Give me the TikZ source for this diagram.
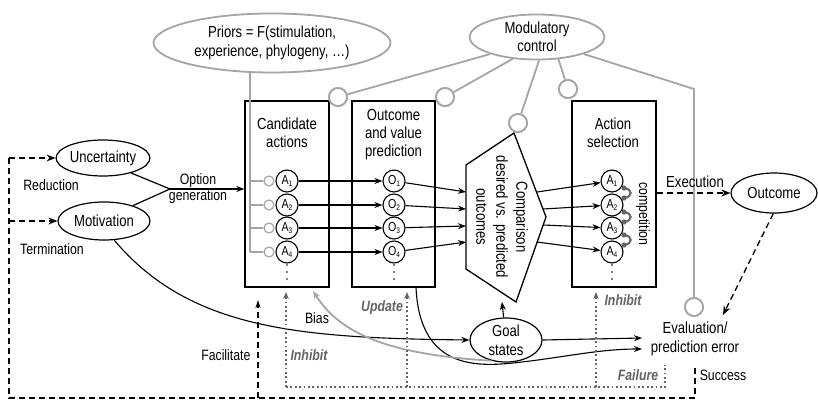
\documentclass[tikz,border=0pt]{standalone}
\usepackage{fontspec}
\setmainfont{Liberation Sans}[FakeStretch=0.82]
\usetikzlibrary{arrows.meta,shapes.geometric,calc}
\definecolor{lgray}{RGB}{165,165,165}
\definecolor{dgray}{RGB}{100,100,100}
\newcommand{\Asub}[2]{#1\raisebox{-2.5pt}{\fontsize{8}{8}\selectfont #2}}
\begin{document}
\begin{tikzpicture}[x=1pt,y=-1pt,
  font=\fontsize{16}{19}\selectfont,
  box/.style={draw, line width=1.3pt, minimum width=84pt, minimum height=186pt, inner sep=0pt},
  ell/.style={draw, ellipse, line width=1.2pt, inner sep=0pt, align=center},
  gell/.style={draw=lgray, ellipse, line width=1.8pt, inner sep=0pt, align=center},
  acirc/.style={draw, circle, line width=1.1pt, minimum size=22pt, inner sep=0pt, font=\fontsize{13}{13}\selectfont},
  arr/.style={-{Stealth[length=8pt,width=6pt]}, line width=1.1pt},
  darr/.style={-{Stealth[length=9pt,width=7pt]}, line width=1.3pt, dash pattern=on 6pt off 4pt},
  gline/.style={draw=lgray, line width=1.8pt},
  mcirc/.style={draw=lgray, circle, line width=1.8pt, minimum size=18pt, inner sep=0pt, fill=white},
  scirc/.style={draw=lgray, circle, line width=1.2pt, minimum size=10pt, inner sep=0pt, fill=white},
  dotln/.style={draw=dgray, line width=1.8pt, dash pattern=on 1.8pt off 2.6pt},
  dotarr/.style={dotln, -{Stealth[length=7pt,width=5.5pt]}},
  lbl/.style={font=\fontsize{15}{17}\selectfont},
  glbl/.style={font=\fontsize{15}{17}\selectfont\bfseries\itshape, text=dgray},
  comp/.style={draw=dgray, line width=2pt},
  ttl/.style={align=center, font=\fontsize{16}{18}\selectfont}
]
\useasboundingbox (0,0) rectangle (818,401);

% ---------- ellipses top ----------
\node[gell, minimum width=237pt, minimum height=59pt] (pri) at (272,43)
  {Priors = F(stimulation,\\experience, phylogeny, …)};
\node[gell, minimum width=135pt, minimum height=45pt, font=\fontsize{16}{18}\selectfont] (mod) at (537,37)
  {Modulatory\\control};

% ---------- boxes ----------
\node[box] (cand) at (287,194) {};
\node[box, minimum width=83pt] (outb) at (393.5,194) {};
\node[box] (actb) at (614,194) {};
\node[ttl] (candt) at (287,133) {Candidate\\actions};
\node[ttl] (outt) at (393.5,135) {Outcome\\and value\\prediction};
\node[ttl] (actt) at (613,133) {Action\\selection};

% ---------- comparison polygon ----------
\coordinate (cT) at (514,133);
\coordinate (cR) at (546,217);
\coordinate (cB) at (516,302);
\coordinate (cBL) at (466,269);
\coordinate (cTL) at (466,165);
\draw[line width=1.3pt, line join=miter] (cT) -- (cR) -- (cB) -- (cBL) -- (cTL) -- cycle;
\node[rotate=-90, align=center, font=\fontsize{16}{20}\selectfont] (cmpt) at (502,217)
  {Comparison\\desired vs. predicted\\outcomes};

% ---------- circles ----------
\foreach \i/\y in {1/181,2/205,3/228,4/252}{
  \node[acirc] (a\i) at (287,\y) {\Asub{A}{\i}};
  \node[acirc] (o\i) at (394,\y) {\Asub{O}{\i}};
  \node[acirc] (s\i) at (612,\y) {\Asub{A}{\i}};
  \node[scirc] (g\i) at (269,\y) {};
  \draw[arr] (a\i) -- (o\i);
}
% vertical ellipses
\foreach \x in {287,394,612}{
  \foreach \yy in {265,272,279}{
    \fill (\x,\yy) circle (0.9pt);
  }
}

% priors bus
\coordinate (bus1) at (250,72);
\coordinate (bus2) at (250,252);
\draw[gline] (bus1) -- (bus2);
\foreach \i in {1,2,3,4}{
  \draw[gline, line width=1.4pt] (g\i.west -| bus1) -- (g\i.west);
}

% comparison inputs/outputs
\coordinate (ci1) at (466,192);
\coordinate (ci2) at (466,209);
\coordinate (ci3) at (466,226);
\coordinate (ci4) at (466,242);
\coordinate (co1) at (537,192);
\coordinate (co2) at (543,209);
\coordinate (co3) at (543,225);
\coordinate (co4) at (537,242);
\foreach \i in {1,2,3,4}{
  \draw[arr] (o\i) -- (ci\i);
  \draw[arr] (co\i) -- (s\i);
}

% competition
\foreach \y in {181,205,228}{
  \draw[comp] (624,\y+7) .. controls (633,\y+8) and (633,\y+16) .. (624,\y+17);
  \fill[dgray] (624,\y+7) circle (2.6pt);
  \fill[dgray] (624,\y+17) circle (2.6pt);
}
\node[rotate=-90, font=\fontsize{15}{17}\selectfont] (compt) at (643,214) {competition};

% ---------- modulatory connections ----------
\node[mcirc] (m1) at (338,97) {};
\node[mcirc] (m2) at (445,97) {};
\node[mcirc] (m3) at (518,123) {};
\node[mcirc] (m4) at (568,89) {};
\node[mcirc] (m5) at (694,307) {};
\coordinate (m5k) at (694,89);
\draw[gline] (mod.200) -- (m1);
\draw[gline] (mod.222) -- (m2);
\draw[gline] (mod.275) -- (m3);
\draw[gline] (mod.314) -- (m4);
\draw[gline] (mod.340) -- (m5k) -- (m5);
\node[mcirc] at (m1) {};
\node[mcirc] at (m2) {};
\node[mcirc] at (m3) {};
\node[mcirc] at (m4) {};
\node[mcirc] at (m5) {};

% ---------- left side ----------
\node[ell, minimum width=92pt, minimum height=36pt] (unc) at (103,158) {Uncertainty};
\node[ell, minimum width=92pt, minimum height=38pt] (mot) at (104,221) {Motivation};
\coordinate (join) at (170,189);
\draw[line width=1.2pt] (unc.-28) -- (join);
\draw[line width=1.2pt] (mot.28) -- (join);
\draw[arr, line width=1.3pt] (join) -- (join -| cand.west);
\node[lbl] (optl) at (198,181) {Option};
\node[lbl] (genl) at (198,197) {generation};

\coordinate (lt) at (9,158);
\coordinate (lb) at (9,398);
\coordinate (rb) at (695,398);
\coordinate (rs) at (695,365);
\draw[darr] (lt) -- (unc.west);
\draw[line width=1.3pt, dash pattern=on 6pt off 4pt] (lt) -- (lb) -- (rb) -- (rs);
\draw[darr] (lt |- mot.west) -- (mot.west);
\node[lbl] (redl) at (51,185) {Reduction};
\node[lbl] (terl) at (52,249) {Termination};

% facilitate
\coordinate (fb) at (258,398);
\coordinate (ft) at (258,300);
\draw[darr, -{Stealth[length=8pt,width=5pt]}] (fb) -- (ft);
\node[lbl, anchor=east] (facl) at (254,355) {Facilitate};

% ---------- goal states and evaluation ----------
\node[ell, minimum width=72pt, minimum height=44pt, font=\fontsize{16}{19}\selectfont] (goal) at (506,340) {Goal\\states};
\node[align=center, font=\fontsize{16}{19}\selectfont, inner sep=0pt] (eval) at (695,339) {Evaluation/\\prediction error};
\coordinate (e1) at (642,338);
\coordinate (e2) at (642,349);
\draw[arr] (goal) -- (cmpt.west |- cB);
\draw[arr] (goal.east) -- (e1);
\draw[arr] (mot.-62) .. controls (190,330) and (300,338) .. (goal.west);
\draw[arr] (outb.south -| 416,0) .. controls (420,372) and (480,367) .. (522,362)
  .. controls (565,357) and (600,349) .. (e2);
\draw[draw=lgray, line width=1.8pt, -{Stealth[length=8pt,width=6pt]}]
  (goal.235) .. controls (380,354) and (338,330) .. (313,291);
\node[lbl] (biasl) at (317,318) {Bias};

% ---------- outcome ----------
\node[ell, minimum width=86pt, minimum height=40pt] (outc) at (774,193) {Outcome};
\draw[darr] (actb.east |- outc.west) -- (outc.west);
\node[lbl, font=\fontsize{16}{18}\selectfont] (exel) at (695,182) {Execution};
\coordinate (ev) at (723,315);
\draw[darr] (outc.-92) -- (ev);

% ---------- dotted loop ----------
\coordinate (d1) at (286,387);
\coordinate (d2) at (407,387);
\coordinate (d3) at (596,387);
\coordinate (d4) at (665,387);
\coordinate (d5) at (665,365);
\draw[dotln] (d1) -- (d4) -- (d5);
\draw[dotarr] (d1) -- (286,292);
\draw[dotarr] (d2) -- (407,292);
\draw[dotarr] (d3) -- (596,292);
\node[glbl] (inh1) at (309,355) {Inhibit};
\node[glbl] (upd) at (382,308) {Update};
\node[glbl] (inh2) at (623,300) {Inhibit};
\node[glbl] (fail) at (638,375) {Failure};
\node[lbl] (succ) at (723,375) {Success};
\end{tikzpicture}
\end{document}
